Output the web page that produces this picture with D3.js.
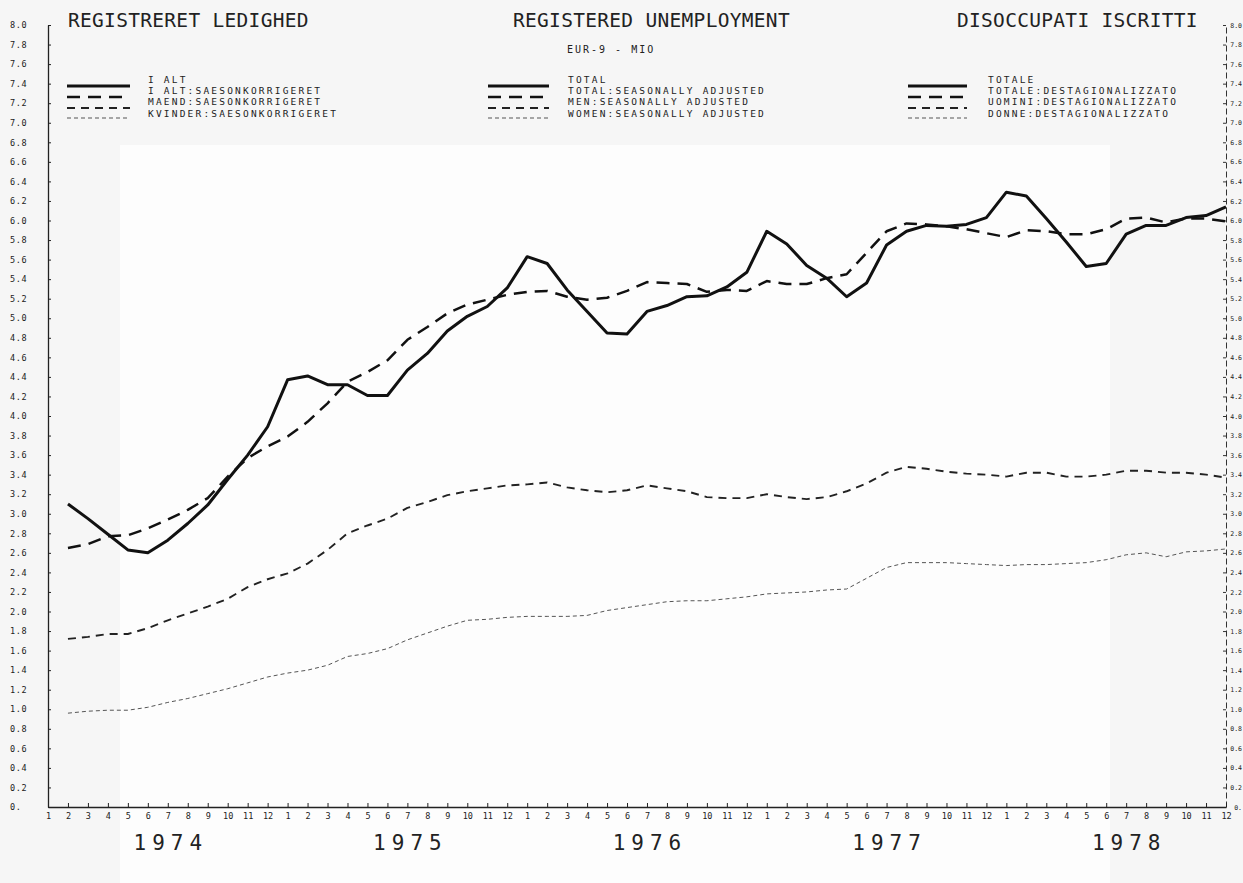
<!DOCTYPE html>
<html>
<head>
<meta charset="utf-8">
<script src="https://cdn.jsdelivr.net/npm/d3@7"></script>
<style>
  body { margin: 0; background: #f6f6f6; }
  svg { display: block; }
  text { font-family: "DejaVu Sans Mono", "Liberation Mono", monospace; fill: #222; }
</style>
</head>
<body>
<div id="chart"></div>
<script>
// ─── DATA (monthly, Feb 1974 .. Dec 1978, million persons) ───
const firstMonth = 1; // month index of first value, 0 = Jan 1974
const years = ["1974", "1975", "1976", "1977", "1978"];
const yTicks = d3.range(0, 8.01, 0.2);

const total = [3.10, 2.95, 2.79, 2.63, 2.60, 2.73, 2.90, 3.09, 3.35, 3.60,
  3.89, 4.37, 4.41, 4.32, 4.32, 4.21, 4.21, 4.47, 4.64, 4.87,
  5.02, 5.12, 5.31, 5.63, 5.56, 5.29, 5.07, 4.85, 4.84, 5.07,
  5.13, 5.22, 5.23, 5.32, 5.47, 5.89, 5.76, 5.54, 5.41, 5.22,
  5.36, 5.75, 5.89, 5.95, 5.94, 5.96, 6.03, 6.29, 6.25, 6.02,
  5.78, 5.53, 5.56, 5.86, 5.95, 5.95, 6.03, 6.05, 6.14];

const totalSA = [2.65, 2.69, 2.77, 2.78, 2.85, 2.94, 3.04, 3.16, 3.38, 3.57,
  3.69, 3.79, 3.94, 4.13, 4.35, 4.45, 4.57, 4.78, 4.91, 5.05,
  5.14, 5.19, 5.24, 5.27, 5.28, 5.22, 5.19, 5.21, 5.28, 5.37,
  5.36, 5.35, 5.27, 5.29, 5.28, 5.38, 5.35, 5.35, 5.41, 5.45,
  5.67, 5.89, 5.97, 5.96, 5.94, 5.91, 5.87, 5.83, 5.90, 5.89,
  5.86, 5.86, 5.91, 6.02, 6.03, 5.98, 6.02, 6.02, 5.99];

const menSA = [1.72, 1.74, 1.77, 1.77, 1.83, 1.91, 1.98, 2.05, 2.13, 2.25,
  2.33, 2.39, 2.49, 2.63, 2.80, 2.88, 2.95, 3.06, 3.12, 3.19,
  3.23, 3.26, 3.29, 3.30, 3.32, 3.27, 3.24, 3.22, 3.24, 3.29,
  3.26, 3.23, 3.17, 3.16, 3.16, 3.20, 3.17, 3.15, 3.17, 3.23,
  3.31, 3.42, 3.48, 3.46, 3.43, 3.41, 3.40, 3.38, 3.42, 3.42,
  3.38, 3.38, 3.40, 3.44, 3.44, 3.42, 3.42, 3.40, 3.37];

const womenSA = [0.96, 0.98, 0.99, 0.99, 1.02, 1.07, 1.11, 1.16, 1.21, 1.27,
  1.33, 1.37, 1.40, 1.45, 1.54, 1.57, 1.62, 1.71, 1.78, 1.85,
  1.91, 1.92, 1.94, 1.95, 1.95, 1.95, 1.96, 2.01, 2.04, 2.07,
  2.10, 2.11, 2.11, 2.13, 2.15, 2.18, 2.19, 2.20, 2.22, 2.23,
  2.34, 2.45, 2.50, 2.50, 2.50, 2.49, 2.48, 2.47, 2.48, 2.48,
  2.49, 2.50, 2.53, 2.58, 2.60, 2.56, 2.61, 2.62, 2.64];

// legend labels, one list per language
const legendDA = ["I ALT", "I ALT:SAESONKORRIGERET", "MAEND:SAESONKORRIGERET", "KVINDER:SAESONKORRIGERET"];
const legendEN = ["TOTAL", "TOTAL:SEASONALLY ADJUSTED", "MEN:SEASONALLY ADJUSTED", "WOMEN:SEASONALLY ADJUSTED"];
const legendIT = ["TOTALE", "TOTALE:DESTAGIONALIZZATO", "UOMINI:DESTAGIONALIZZATO", "DONNE:DESTAGIONALIZZATO"];

// line styles for the four series
const styles = [
  { w: 3, dash: null, color: "#111" },
  { w: 2.5, dash: "13,8", color: "#111" },
  { w: 1.9, dash: "8,6", color: "#222" },
  { w: 1, dash: "4,3", color: "#555" }
];

const width = 1243, height = 883;

const svg = d3.select("#chart").append("svg")
  .attr("width", width)
  .attr("height", height);

// faint scan-like paper patch
svg.append("rect")
  .attr("x", 120).attr("y", 145).attr("width", 990).attr("height", 738)
  .attr("fill", "#fdfdfd");

const x = d3.scaleLinear().domain([0, 59]).range([48, 1226]);
const y = d3.scaleLinear().domain([0, 8]).range([807, 25]);

const fmt = d => d === 0 ? "0." : d.toFixed(1);

// ─── LEFT AXIS ───
const yLeft = svg.append("g")
  .attr("transform", `translate(${x(0)},0)`)
  .call(d3.axisLeft(y).tickValues(yTicks).tickSize(-3).tickSizeOuter(0).tickFormat(fmt));
yLeft.select(".domain").attr("stroke", "#222").attr("stroke-width", 1.3);
yLeft.selectAll(".tick line").attr("stroke", "#222");
yLeft.selectAll(".tick text")
  .attr("x", -38).attr("text-anchor", "start")
  .style("font-size", "8.5px").style("letter-spacing", "0.6px").attr("fill", "#333");

// ─── RIGHT AXIS (dashed, labels squeezed at the page edge) ───
const yRight = svg.append("g")
  .attr("transform", `translate(${x(59)},0)`)
  .call(d3.axisRight(y).tickValues(yTicks).tickSize(-3).tickSizeOuter(0).tickFormat(fmt));
yRight.select(".domain").attr("stroke", "#333").attr("stroke-dasharray", "6,3");
yRight.selectAll(".tick line").attr("stroke", "#333");
yRight.selectAll(".tick text")
  .attr("x", 16).attr("text-anchor", "end")
  .style("font-size", "6.5px").attr("fill", "#333");

// ─── X AXIS (months) ───
const xAxis = svg.append("g")
  .attr("transform", `translate(0,${y(0)})`)
  .call(d3.axisBottom(x).tickValues(d3.range(0, 60)).tickSize(-4).tickSizeOuter(0)
    .tickPadding(6)
    .tickFormat(d => (d % 12) + 1));
xAxis.select(".domain").attr("stroke", "#222").attr("stroke-width", 1.3);
xAxis.selectAll(".tick line").attr("stroke", "#222");
xAxis.selectAll(".tick text").style("font-size", "8.5px").attr("fill", "#333");

// year labels
svg.selectAll(".year")
  .data(years)
  .enter().append("text")
  .attr("class", "year")
  .attr("x", (d, i) => x(i * 12 + 6) + 3)
  .attr("y", 850)
  .attr("text-anchor", "middle")
  .style("font-size", "21px")
  .style("letter-spacing", "6px")
  .attr("fill", "#333")
  .text(d => d);

// ─── SERIES ───
const series = [total, totalSA, menSA, womenSA];
const line = d3.line()
  .x((d, i) => x(firstMonth + i))
  .y(d => y(d));

svg.selectAll(".series")
  .data(series)
  .enter().append("path")
  .attr("class", "series")
  .attr("fill", "none")
  .attr("stroke", (d, i) => styles[i].color)
  .attr("stroke-width", (d, i) => styles[i].w)
  .attr("stroke-dasharray", (d, i) => styles[i].dash)
  .attr("stroke-linejoin", "round")
  .attr("d", line);

// ─── TITLES ───
const titles = [
  { t: "REGISTRERET LEDIGHED", x: 68 },
  { t: "REGISTERED UNEMPLOYMENT", x: 513 },
  { t: "DISOCCUPATI ISCRITTI", x: 957 }
];
svg.selectAll(".title")
  .data(titles)
  .enter().append("text")
  .attr("class", "title")
  .attr("x", d => d.x)
  .attr("y", 27)
  .style("font-size", "19.5px")
  .style("letter-spacing", "0.3px")
  .attr("fill", "#222")
  .text(d => d.t);

svg.append("text")
  .attr("x", 567).attr("y", 53)
  .style("font-size", "10px")
  .style("letter-spacing", "2px")
  .attr("fill", "#222")
  .text("EUR-9  -  MIO");

// ─── LEGENDS ───
const legends = [
  { labels: legendDA, x0: 67, x1: 130, tx: 148 },
  { labels: legendEN, x0: 488, x1: 549, tx: 568 },
  { labels: legendIT, x0: 908, x1: 967, tx: 988 }
];
const rowY = [86, 97, 108, 118];
const textY = [83, 94, 105, 117];

legends.forEach(lg => {
  const g = svg.append("g");
  g.selectAll("line")
    .data(styles)
    .enter().append("line")
    .attr("x1", lg.x0).attr("x2", lg.x1)
    .attr("y1", (d, i) => rowY[i]).attr("y2", (d, i) => rowY[i])
    .attr("stroke", d => d.color)
    .attr("stroke-width", d => d.w)
    .attr("stroke-dasharray", d => d.dash);
  g.selectAll("text")
    .data(lg.labels)
    .enter().append("text")
    .attr("x", lg.tx)
    .attr("y", (d, i) => textY[i])
    .style("font-size", "9.5px")
    .style("letter-spacing", "2.2px")
    .attr("fill", "#222")
    .text(d => d);
});
</script>
</body>
</html>
